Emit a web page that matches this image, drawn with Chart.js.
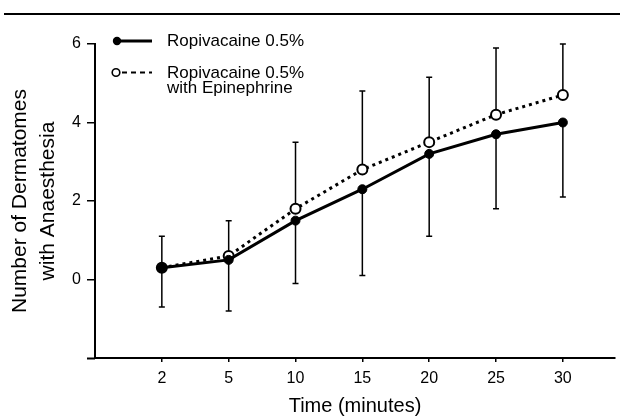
<!DOCTYPE html>
<html>
<head>
<meta charset="utf-8">
<script src="https://cdn.jsdelivr.net/npm/chart.js@4.4.1/dist/chart.umd.min.js"></script>
<style>
  html, body { margin: 0; padding: 0; background: #fff; }
  #wrap { position: relative; width: 624px; height: 418px; overflow: hidden; }
  #c { position: absolute; left: 0; top: 0; }
  .rule { position: absolute; left: 4px; top: 13px; width: 616px; height: 2px; background: #000; }
  .lg { position: absolute; left: 167px; font-family: "Liberation Sans", Arial, sans-serif; font-size: 17px; line-height: 17px; color: #000; white-space: nowrap; }
  svg.lgm { position: absolute; left: 0; top: 0; pointer-events: none; }
</style>
</head>
<body>
<div id="wrap">
  <canvas id="c" width="624" height="418"></canvas>
  <div class="rule"></div>
  <svg class="lgm" width="624" height="418">
    <line x1="117" y1="41" x2="152" y2="41" stroke="#000" stroke-width="3"/>
    <circle cx="117" cy="41" r="4.2" fill="#000"/>
    <line x1="122" y1="72.5" x2="152" y2="72.5" stroke="#000" stroke-width="2" stroke-dasharray="5,4"/>
    <circle cx="116" cy="72.5" r="3.8" fill="#fff" stroke="#000" stroke-width="1.6"/>
  </svg>
  <div class="lg" style="top:32px;">Ropivacaine 0.5%</div>
  <div class="lg" style="top:64px;">Ropivacaine 0.5%</div>
  <div class="lg" style="top:79px;">with Epinephrine</div>
</div>
<script>
// ---- data ----
const xLabels = ['2', '5', '10', '15', '20', '25', '30'];
const plain = [0.3, 0.5, 1.5, 2.3, 3.2, 3.7, 4.0];
const epi = [0.3, 0.6, 1.8, 2.8, 3.5, 4.2, 4.7];
const epiUpper = [1.1, 1.5, 3.5, 4.8, 5.15, 5.9, 6.0];
const plainLower = [-0.7, -0.8, -0.1, 0.1, 1.1, 1.8, 2.1];
const yTicks = [0, 2, 4, 6];
const seriesNames = ['Ropivacaine 0.5%', 'Ropivacaine 0.5% with Epinephrine'];

const toPts = arr => arr.map((v, i) => ({ x: i, y: v }));

const errorBars = {
  id: 'errorBars',
  beforeDatasetsDraw(chart) {
    const { ctx, scales: { x, y }, chartArea } = chart;
    ctx.save();
    ctx.strokeStyle = '#000';
    ctx.lineWidth = 1.5;
    const cap = 3;
    for (let i = 0; i < xLabels.length; i++) {
      const px = x.getPixelForValue(i);
      const segs = [[epi[i], epiUpper[i]], [plain[i], plainLower[i]]];
      for (const [from, to] of segs) {
        const y0 = y.getPixelForValue(from), y1 = y.getPixelForValue(to);
        ctx.beginPath();
        ctx.moveTo(px, y0); ctx.lineTo(px, y1);
        ctx.moveTo(px - cap, y1); ctx.lineTo(px + cap, y1);
        ctx.stroke();
      }
    }
    ctx.restore();
  },
  afterDraw(chart) {
    const { ctx, chartArea } = chart;
    ctx.save();
    ctx.strokeStyle = '#000';
    ctx.lineWidth = 2;
    ctx.beginPath();
    ctx.moveTo(chartArea.left - 8, chartArea.bottom + 0.5);
    ctx.lineTo(chartArea.left, chartArea.bottom + 0.5);
    ctx.stroke();
    ctx.restore();
  }
};

new Chart(document.getElementById('c'), {
  type: 'line',
  data: {
    datasets: [
      {
        label: seriesNames[0],
        data: toPts(plain),
        borderColor: '#000',
        borderWidth: 3,
        pointRadius: 4.5,
        pointBackgroundColor: '#000',
        pointBorderColor: '#000',
        pointBorderWidth: 1,
        tension: 0
      },
      {
        label: seriesNames[1],
        data: toPts(epi),
        borderColor: '#000',
        borderWidth: 3,
        borderDash: [3, 4],
        pointRadius: 5,
        pointBackgroundColor: '#fff',
        pointBorderColor: '#000',
        pointBorderWidth: 2,
        tension: 0
      }
    ]
  },
  options: {
    responsive: false,
    animation: false,
    events: [],
    layout: { padding: { top: 44, right: 9, left: 0, bottom: 0 } },
    plugins: { legend: { display: false }, tooltip: { enabled: false } },
    scales: {
      x: {
        type: 'linear',
        min: -1,
        max: 6.78,
        afterBuildTicks: s => { s.ticks = xLabels.map((_, i) => ({ value: i })); },
        afterFit: s => { s.height = 60; },
        ticks: {
          callback: v => xLabels[v],
          color: '#000',
          font: { family: 'Liberation Sans', size: 16 },
          padding: 7,
          maxRotation: 0,
          autoSkip: false
        },
        grid: { display: true, drawOnChartArea: false, drawTicks: true, tickLength: 4, color: '#000', lineWidth: 1.5 },
        border: { display: true, color: '#000', width: 2 },
        title: {
          display: true,
          text: 'Time (minutes)',
          color: '#000',
          font: { family: 'Liberation Sans', size: 20 },
          padding: { top: 0, bottom: 0 }
        }
      },
      y: {
        min: -2,
        max: 6,
        afterBuildTicks: s => { s.ticks = yTicks.map(v => ({ value: v })); },
        afterFit: s => { s.width = 95; },
        ticks: {
          color: '#000',
          font: { family: 'Liberation Sans', size: 16 },
          padding: 6
        },
        grid: { display: true, drawOnChartArea: false, drawTicks: true, tickLength: 8, color: '#000', lineWidth: 1.5 },
        border: { display: true, color: '#000', width: 2 },
        title: {
          display: true,
          text: ['Number of Dermatomes', 'with Anaesthesia'],
          color: '#000',
          font: { family: 'Liberation Sans', size: 21, lineHeight: 1.33 },
          padding: { top: 6, bottom: 0 }
        }
      }
    }
  },
  plugins: [errorBars]
});
</script>
</body>
</html>
